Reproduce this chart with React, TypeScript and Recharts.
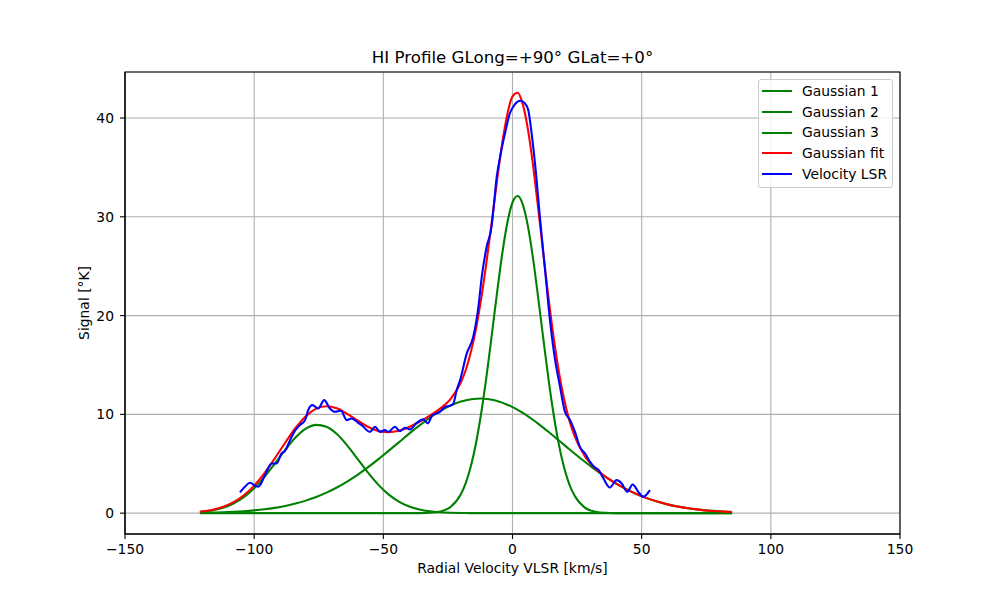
import React from 'react';
import { LineChart, Line, XAxis, YAxis, CartesianGrid, ReferenceArea, Legend } from 'recharts';

// Shared velocity grid for the Gaussian components and the fit (km/s)
const gaussVelocity = [
  -121, -116, -112, -108, -104, -100, -96, -92, -88, -84, -80, -76, -72, -68, -64, -60, -56, -52, -48, -44, -40, -36, -32, -28, -24,
  -20, -18, -16, -14, -12, -10, -8, -6, -4, -2, 0, 2, 4, 6, 8, 10, 12, 14, 16, 18, 20, 22, 24,
  28, 32, 36, 40, 44, 48, 52, 56, 60, 64, 68, 72, 76, 80, 85,
];

const gaussian1 = [
  0.116, 0.285, 0.543, 0.967, 1.613, 2.514, 3.67, 5.01, 6.4, 7.65, 8.55, 8.94, 8.75, 8.01, 6.86, 5.5, 4.12, 2.89, 1.9, 1.17, 0.67, 0.36, 0.18, 0.085, 0.037,
  0.015, 0.009, 0.005, 0.003, 0.002, 0.001, 0, 0, 0, 0, 0, 0, 0, 0, 0, 0, 0, 0, 0, 0, 0, 0, 0,
  0, 0, 0, 0, 0, 0, 0, 0, 0, 0, 0, 0, 0, 0, 0,
];

const gaussian2 = [
  0.038, 0.063, 0.094, 0.138, 0.198, 0.28, 0.391, 0.537, 0.726, 0.967, 1.268, 1.636, 2.079, 2.6, 3.2, 3.88, 4.63, 5.44, 6.3, 7.17, 8.05, 8.88, 9.66, 10.33, 10.89,
  11.3, 11.44, 11.54, 11.59, 11.6, 11.56, 11.48, 11.36, 11.19, 10.98, 10.74, 10.46, 10.14, 9.8, 9.43, 9.04, 8.64, 8.22, 7.79, 7.35, 6.91, 6.47, 6.04,
  5.2, 4.4, 3.67, 3.01, 2.43, 1.94, 1.52, 1.17, 0.889, 0.664, 0.489, 0.355, 0.253, 0.178, 0.112,
];

const gaussian3 = [
  0, 0, 0, 0, 0, 0, 0, 0, 0, 0, 0, 0, 0, 0, 0, 0, 0, 0, 0, 0, 0.001, 0.007, 0.037, 0.166, 0.618,
  1.91, 3.12, 4.88, 7.26, 10.32, 13.98, 18.08, 22.28, 26.21, 29.4, 31.45, 32.1, 31.24, 29.01, 25.69, 21.7, 17.49, 13.44, 9.86, 6.89, 4.59, 2.92, 1.78,
  0.567, 0.15, 0.033, 0.006, 0, 0, 0, 0, 0, 0, 0, 0, 0, 0, 0,
];

const gaussianFit = [
  0.15, 0.35, 0.64, 1.11, 1.81, 2.79, 4.06, 5.55, 7.13, 8.62, 9.82, 10.58, 10.83, 10.61, 10.06, 9.38, 8.75, 8.33, 8.2, 8.34, 8.72, 9.25, 9.88, 10.58, 11.55,
  13.23, 14.57, 16.43, 18.85, 21.92, 25.54, 29.56, 33.64, 37.4, 40.38, 42.19, 42.56, 41.38, 38.81, 35.12, 30.74, 26.13, 21.66, 17.65, 14.24, 11.5, 9.39, 7.82,
  5.77, 4.55, 3.7, 3.02, 2.43, 1.94, 1.52, 1.17, 0.89, 0.66, 0.49, 0.36, 0.25, 0.18, 0.11,
];

// Measured profile (Velocity LSR)
const lsrVelocity = [
  -105.5, -103.6, -101.6, -99.5, -98.4, -97.7, -95.8, -93.2, -91.3, -89.4, -88.1, -86.1, -84.2, -82.3, -80.3, -79.1, -77.5, -75.2, -72.9, -70.7,
  -68.7, -66.4, -64.2, -62.3, -59.5, -58.4, -55.2, -53.2, -51.3, -49.4, -48.1, -45.5, -43.6, -41.6, -39.7, -37.1, -34.5, -32.8, -31.0, -29.3,
  -28.1, -26.1, -24.2, -22.9, -21.6, -20.3, -17.7, -15.2, -13.2, -11.9, -10.0, -8.1, -7.4, -6.1, -4.8, -2.9, -1.0, 1.0, 2.9, 4.8,
  6.1, 7.4, 9.1, 10.6, 12.6, 14.5, 16.5, 18.4, 20.3, 22.3, 24.2, 26.1, 28.1, 30.0, 31.9, 33.2, 35.2, 37.7, 40.3, 42.3,
  44.4, 46.5, 48.7, 50.6, 53.2,
];
const lsrSignal = [
  2.1, 2.67, 3.07, 2.75, 2.67, 2.85, 3.85, 5.03, 5.03, 6.04, 6.28, 7.39, 8.34, 8.91, 9.42, 10.43, 10.94, 10.6, 11.44, 10.6,
  10.26, 10.36, 9.42, 9.59, 9.1, 8.91, 8.23, 8.74, 8.23, 8.41, 8.23, 8.74, 8.3, 8.64, 8.47, 9.14, 9.49, 9.08, 9.92, 10.1,
  10.26, 10.76, 10.87, 11.1, 12.46, 13.47, 16.17, 17.85, 20.89, 23.93, 26.97, 29.0, 30.68, 34.06, 36.08, 38.45, 40.48, 41.42, 41.75, 41.49,
  40.81, 38.45, 34.4, 30.0, 24.6, 19.54, 15.49, 12.8, 10.26, 9.42, 8.23, 6.71, 6.04, 5.2, 4.62, 4.42, 3.51, 2.6, 3.34, 3.0,
  2.16, 2.9, 2.16, 1.65, 2.33,
];

const xTicks = [-150, -100, -50, 0, 50, 100, 150];
const yTicks = [0, 10, 20, 30, 40];
const xDomain = [-150, 150];
const yDomain = [-2.11, 44.66];

const titleText = 'HI Profile GLong=+90° GLat=+0°';
const xLabelText = 'Radial Velocity VLSR [km/s]';
const yLabelText = 'Signal [°K]';

const seriesNames = ['Gaussian 1', 'Gaussian 2', 'Gaussian 3', 'Gaussian fit', 'Velocity LSR'];
const seriesColors = ['#008000', '#008000', '#008000', '#ff0000', '#0000ff'];

const gaussRows = gaussVelocity.map((v, i) => ({
  v,
  g1: gaussian1[i],
  g2: gaussian2[i],
  g3: gaussian3[i],
  fit: gaussianFit[i],
}));
const lsrRows = lsrVelocity.map((v, i) => ({ v, s: lsrSignal[i] }));

const FONT = "'DejaVu Sans', 'Liberation Sans', sans-serif";
const FS = 13.89;

const fmt = (t: number) => String(t).replace('-', '\u2212');

const renderLegend = () => (
  <div
    style={{
      position: 'relative',
      width: 135,
      height: 109,
      boxSizing: 'border-box',
      border: '1px solid #cccccc',
      borderRadius: 3,
      background: 'rgba(255,255,255,0.8)',
      fontFamily: FONT,
      fontSize: FS,
      color: '#000',
    }}
  >
    {seriesNames.map((name, i) => (
      <div key={name} style={{ position: 'absolute', left: 0, top: 0.95 + i * 20.7, height: 20.7, width: '100%' }}>
        <div style={{ position: 'absolute', left: 3.3, top: 9.3, width: 29.4, height: 2.1, background: seriesColors[i] }} />
        <div style={{ position: 'absolute', left: 43, top: 0, lineHeight: '20.7px', whiteSpace: 'nowrap' }}>{name}</div>
      </div>
    ))}
  </div>
);

export default function App() {
  const tickStyle = { fill: '#000', fontSize: FS, fontFamily: FONT };
  return (
    <div style={{ position: 'absolute', left: 0, top: 0, width: 1000, height: 600, background: '#fff' }}>
      <LineChart width={1000} height={600} margin={{ top: 72, right: 100, bottom: 36, left: 65 }}>
        <CartesianGrid stroke="#b0b0b0" strokeWidth={1.1} />
        <XAxis
          dataKey="v"
          type="number"
          domain={xDomain}
          ticks={xTicks}
          tickFormatter={fmt}
          allowDataOverflow
          height={30}
          tick={tickStyle}
          tickSize={5}
          tickMargin={5}
          stroke="#000"
          axisLine={{ stroke: '#000', strokeWidth: 1.1 }}
          tickLine={{ stroke: '#000', strokeWidth: 1.1 }}
        />
        <YAxis
          type="number"
          domain={yDomain}
          ticks={yTicks}
          tickFormatter={fmt}
          allowDataOverflow
          width={60}
          tick={tickStyle}
          tickSize={5}
          tickMargin={6}
          stroke="#000"
          axisLine={{ stroke: '#000', strokeWidth: 1.1 }}
          tickLine={{ stroke: '#000', strokeWidth: 1.1 }}
        />
        <Line data={gaussRows} dataKey="g1" name={seriesNames[0]} type="monotone" stroke={seriesColors[0]} strokeWidth={2.08} dot={false} activeDot={false} isAnimationActive={false} />
        <Line data={gaussRows} dataKey="g2" name={seriesNames[1]} type="monotone" stroke={seriesColors[1]} strokeWidth={2.08} dot={false} activeDot={false} isAnimationActive={false} />
        <Line data={gaussRows} dataKey="g3" name={seriesNames[2]} type="monotone" stroke={seriesColors[2]} strokeWidth={2.08} dot={false} activeDot={false} isAnimationActive={false} />
        <Line data={gaussRows} dataKey="fit" name={seriesNames[3]} type="monotone" stroke={seriesColors[3]} strokeWidth={2.08} dot={false} activeDot={false} isAnimationActive={false} />
        <Line data={lsrRows} dataKey="s" name={seriesNames[4]} type="monotone" stroke={seriesColors[4]} strokeWidth={2.08} dot={false} activeDot={false} isAnimationActive={false} />
        <ReferenceArea x1={xDomain[0]} x2={xDomain[1]} y1={yDomain[0]} y2={yDomain[1]} fill="none" fillOpacity={0} stroke="#000" strokeWidth={1.1} ifOverflow="visible" />
        <Legend
          layout="vertical"
          align="center"
          verticalAlign="middle"
          content={renderLegend}
          wrapperStyle={{ position: 'absolute', left: 758, top: 79, width: 135, height: 109 }}
        />
      </LineChart>
      <div
        style={{
          position: 'absolute',
          left: 125,
          top: 50,
          width: 775,
          textAlign: 'center',
          fontFamily: FONT,
          fontSize: 16.67,
          lineHeight: '16.67px',
          color: '#000',
          whiteSpace: 'nowrap',
        }}
      >
        {titleText}
      </div>
      <div
        style={{
          position: 'absolute',
          left: 125,
          top: 562.3,
          width: 775,
          textAlign: 'center',
          fontFamily: FONT,
          fontSize: FS,
          lineHeight: `${FS}px`,
          color: '#000',
          whiteSpace: 'nowrap',
        }}
      >
        {xLabelText}
      </div>
      <div
        style={{
          position: 'absolute',
          left: 84.5 - 100,
          top: 303 - FS / 2,
          width: 200,
          height: FS,
          textAlign: 'center',
          fontFamily: FONT,
          fontSize: FS,
          lineHeight: `${FS}px`,
          color: '#000',
          whiteSpace: 'nowrap',
          transform: 'rotate(-90deg)',
        }}
      >
        {yLabelText}
      </div>
    </div>
  );
}
